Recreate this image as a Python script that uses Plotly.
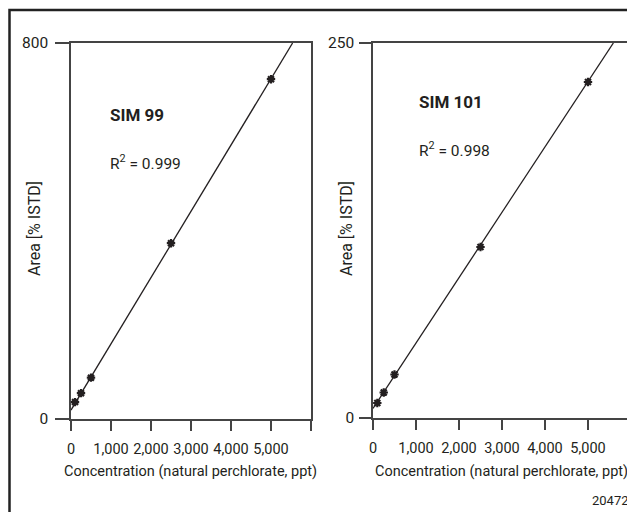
import plotly.graph_objects as go

# ---- data ----
conc_99 = [100, 250, 500, 2500, 5000]
area_99 = [36, 55, 88, 374, 723]
fit_x_99 = [0, 5540]
fit_y_99 = [19, 800]

conc_101 = [100, 250, 500, 2500, 5000]
area_101 = [10, 17, 29, 114, 224]
fit_x_101 = [0, 5590]
fit_y_101 = [6.4, 250]

x_tickvals = [0, 1000, 2000, 3000, 4000, 5000]
x_ticktext = ["0", "1,000", "2,000", "3,000", "4,000", "5,000"]
x_end_tick = [6000]

# page body has an 8px margin, so the figure is sized to fill the rest of the window
OFF = 8
W, H = 635 - OFF, 512 - OFF
FONT = "Roboto, Arial, sans-serif"
INK = "#231f20"

fig = go.Figure()

for i, (cx, ay, fx, fy) in enumerate([(conc_99, area_99, fit_x_99, fit_y_99),
                                      (conc_101, area_101, fit_x_101, fit_y_101)]):
    xa = "x" if i == 0 else "x2"
    ya = "y" if i == 0 else "y2"
    fig.add_trace(go.Scatter(x=fx, y=fy, mode="lines", xaxis=xa, yaxis=ya,
                             line=dict(color=INK, width=1.3), showlegend=False,
                             hoverinfo="skip"))
    fig.add_trace(go.Scatter(x=cx, y=ay, mode="markers", xaxis=xa, yaxis=ya,
                             marker=dict(symbol="asterisk-open", size=7, color=INK,
                                         line=dict(color=INK, width=2.2)),
                             showlegend=False))

def px_x(p):
    return (p - OFF) / W

def px_y(p):
    return 1 - (p - OFF) / H

axis_common = dict(showgrid=False, zeroline=False, showline=True, mirror=True,
                   linecolor="#444", linewidth=1.5, ticks="outside",
                   tickcolor="#444", tickwidth=1.5, tickangle=0, automargin=False)
xfont = dict(family=FONT, size=14.5, color=INK)
yfont = dict(family=FONT, size=15.5, color=INK)
xminor = dict(tickvals=x_end_tick, ticks="outside", ticklen=10,
              tickcolor="#444", tickwidth=1.5, showgrid=False)

fig.update_layout(
    width=W, height=H,
    margin=dict(l=0, r=0, t=0, b=0, autoexpand=False),
    paper_bgcolor="white", plot_bgcolor="white",
    font=dict(family=FONT, color=INK),
    xaxis=dict(domain=[px_x(71), px_x(311)], range=[0, 6000],
               tickvals=x_tickvals, ticktext=x_ticktext, ticklen=10, minor=xminor,
               ticklabelstandoff=6, tickfont=xfont, anchor="y", **axis_common),
    yaxis=dict(domain=[px_y(419), px_y(43)], range=[0, 800],
               tickvals=[0, 800], ticklen=14, ticklabelstandoff=4,
               tickfont=yfont, anchor="x", **axis_common),
    xaxis2=dict(domain=[px_x(373), px_x(631)], range=[0, 6000],
                tickvals=x_tickvals, ticktext=x_ticktext, ticklen=10, minor=xminor,
                ticklabelstandoff=6, tickfont=xfont, anchor="y2", **axis_common),
    yaxis2=dict(domain=[px_y(418), px_y(43)], range=[0, 250],
                tickvals=[0, 250], ticklen=12, ticklabelstandoff=2,
                tickfont=yfont, anchor="x2", **axis_common),
)

ann = []
def text(x, y, s, size=16, xanchor="center", yanchor="middle", angle=0, bold=False):
    if bold:
        s = "<b>" + s + "</b>"
    ann.append(dict(x=px_x(x), y=px_y(y), xref="paper", yref="paper", text=s,
                    showarrow=False, xanchor=xanchor, yanchor=yanchor,
                    textangle=angle, font=dict(family=FONT, size=size, color=INK)))

text(190, 471, "Concentration (natural perchlorate, ppt)", size=14.5)
text(501, 471, "Concentration (natural perchlorate, ppt)", size=14.5)
text(34, 229, "Area [% ISTD]", size=16, angle=-90)
text(346, 229, "Area [% ISTD]", size=16, angle=-90)
text(108, 115, "SIM 99", size=17, xanchor="left", bold=True)
text(108, 162, "R<sup>2</sup> = 0.999", size=15.5, xanchor="left")
text(417, 102, "SIM 101", size=17, xanchor="left", bold=True)
text(417, 149, "R<sup>2</sup> = 0.998", size=15.5, xanchor="left")
text(631, 500, "20472", size=13, xanchor="right")
fig.update_layout(annotations=ann)

fig.add_shape(type="rect", xref="paper", yref="paper",
              x0=px_x(9.5), y0=px_y(540), x1=px_x(670), y1=px_y(10),
              line=dict(color="#222", width=2.5))

fig.write_html("out.html")
